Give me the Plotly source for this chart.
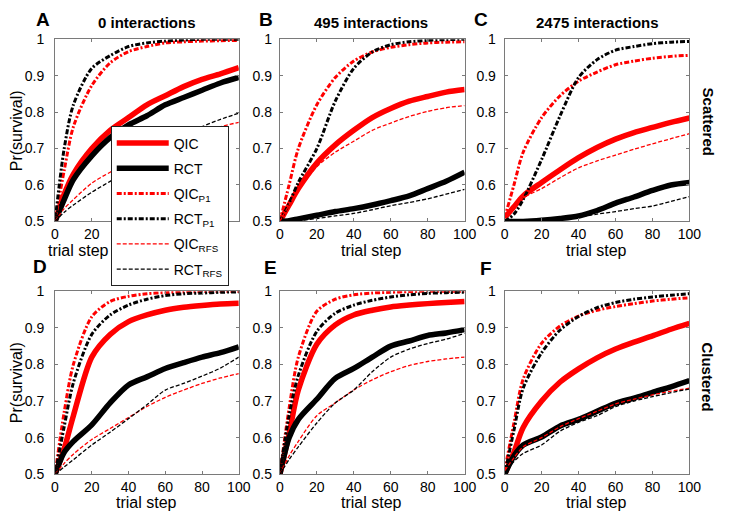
import plotly.graph_objects as go

# The page body has an 8px margin; the figure is sized so the page is 729x531.
OFF = 8
W, H = 729 - 2 * OFF, 531 - 2 * OFF


def px(x):
    return (x - OFF) / W


def py(y):
    return 1 - (y - OFF) / H


steps = [0, 5, 10, 20, 30, 40, 50, 60, 70, 80, 90, 100]

# Panel A: scattered, 0 interactions
A_QIC     = [0.5, 0.575, 0.63, 0.70, 0.75, 0.785, 0.82, 0.845, 0.87, 0.89, 0.905, 0.922]
A_RCT     = [0.5, 0.56, 0.615, 0.68, 0.73, 0.765, 0.79, 0.82, 0.84, 0.86, 0.88, 0.895]
A_QIC_P1  = [0.5, 0.64, 0.76, 0.873, 0.935, 0.966, 0.98, 0.99, 0.993, 0.995, 0.996, 0.997]
A_RCT_P1  = [0.5, 0.70, 0.82, 0.92, 0.955, 0.98, 0.99, 0.995, 0.998, 1.0, 1.0, 1.0]
A_QIC_RFS = [0.5, 0.535, 0.56, 0.605, 0.635, 0.66, 0.685, 0.71, 0.73, 0.745, 0.76, 0.772]
A_RCT_RFS = [0.5, 0.525, 0.545, 0.58, 0.61, 0.64, 0.67, 0.70, 0.735, 0.76, 0.78, 0.797]

# Panel B: scattered, 495 interactions
B_QIC     = [0.5, 0.545, 0.59, 0.66, 0.71, 0.75, 0.785, 0.81, 0.83, 0.843, 0.855, 0.862]
B_RCT     = [0.5, 0.502, 0.507, 0.517, 0.527, 0.535, 0.545, 0.557, 0.57, 0.59, 0.61, 0.635]
B_QIC_P1  = [0.5, 0.6, 0.7, 0.82, 0.895, 0.94, 0.965, 0.978, 0.985, 0.99, 0.992, 0.993]
B_RCT_P1  = [0.5, 0.55, 0.607, 0.70, 0.83, 0.92, 0.965, 0.985, 0.993, 0.997, 0.999, 1.0]
B_QIC_RFS = [0.5, 0.545, 0.585, 0.65, 0.69, 0.72, 0.75, 0.77, 0.788, 0.802, 0.812, 0.818]
B_RCT_RFS = [0.5, 0.5, 0.502, 0.508, 0.515, 0.522, 0.532, 0.543, 0.552, 0.562, 0.575, 0.588]

# Panel C: scattered, 2475 interactions
C_QIC     = [0.51, 0.54, 0.57, 0.607, 0.642, 0.675, 0.703, 0.726, 0.744, 0.758, 0.772, 0.784]
C_RCT     = [0.5, 0.5, 0.5, 0.503, 0.508, 0.515, 0.53, 0.55, 0.567, 0.585, 0.6, 0.607]
C_QIC_P1  = [0.51, 0.6, 0.69, 0.785, 0.845, 0.885, 0.91, 0.93, 0.94, 0.948, 0.953, 0.956]
C_RCT_P1  = [0.5, 0.52, 0.56, 0.67, 0.79, 0.895, 0.944, 0.97, 0.98, 0.988, 0.992, 0.994]
C_QIC_RFS = [0.51, 0.54, 0.565, 0.59, 0.62, 0.647, 0.666, 0.682, 0.698, 0.713, 0.727, 0.741]
C_RCT_RFS = [0.5, 0.5, 0.5, 0.502, 0.506, 0.512, 0.52, 0.527, 0.535, 0.542, 0.555, 0.568]

# Panel D: clustered, 0 interactions
D_QIC     = [0.5, 0.57, 0.66, 0.82, 0.882, 0.917, 0.935, 0.948, 0.956, 0.961, 0.965, 0.967]
D_RCT     = [0.5, 0.56, 0.59, 0.635, 0.695, 0.744, 0.766, 0.789, 0.805, 0.82, 0.832, 0.848]
D_QIC_P1  = [0.5, 0.67, 0.8, 0.93, 0.972, 0.986, 0.993, 0.996, 0.998, 0.999, 1.0, 1.0]
D_RCT_P1  = [0.5, 0.63, 0.75, 0.882, 0.935, 0.962, 0.978, 0.988, 0.993, 0.995, 0.997, 0.998]
D_QIC_RFS = [0.5, 0.53, 0.555, 0.595, 0.625, 0.655, 0.685, 0.71, 0.73, 0.748, 0.763, 0.775]
D_RCT_RFS = [0.5, 0.52, 0.54, 0.58, 0.615, 0.652, 0.69, 0.73, 0.748, 0.768, 0.79, 0.82]

# Panel E: clustered, 495 interactions
E_QIC     = [0.5, 0.61, 0.73, 0.855, 0.908, 0.935, 0.948, 0.957, 0.962, 0.966, 0.969, 0.972]
E_RCT     = [0.5, 0.6, 0.65, 0.705, 0.762, 0.789, 0.82, 0.85, 0.864, 0.879, 0.886, 0.895]
E_QIC_P1  = [0.5, 0.68, 0.82, 0.945, 0.978, 0.99, 0.995, 0.997, 0.999, 1.0, 1.0, 1.0]
E_RCT_P1  = [0.5, 0.66, 0.77, 0.89, 0.94, 0.962, 0.975, 0.984, 0.99, 0.994, 0.996, 0.997]
E_QIC_RFS = [0.5, 0.55, 0.59, 0.66, 0.695, 0.73, 0.758, 0.78, 0.797, 0.808, 0.815, 0.82]
E_RCT_RFS = [0.5, 0.54, 0.575, 0.64, 0.695, 0.73, 0.78, 0.82, 0.842, 0.857, 0.869, 0.885]

# Panel F: clustered, 2475 interactions
F_QIC     = [0.5, 0.56, 0.628, 0.7, 0.752, 0.788, 0.818, 0.842, 0.861, 0.878, 0.896, 0.912]
F_RCT     = [0.5, 0.55, 0.58, 0.602, 0.632, 0.65, 0.672, 0.694, 0.708, 0.724, 0.739, 0.756]
F_QIC_P1  = [0.51, 0.64, 0.76, 0.858, 0.905, 0.932, 0.948, 0.958, 0.966, 0.973, 0.978, 0.982]
F_RCT_P1  = [0.5, 0.62, 0.735, 0.832, 0.894, 0.931, 0.955, 0.969, 0.978, 0.984, 0.989, 0.993]
F_QIC_RFS = [0.51, 0.545, 0.575, 0.6, 0.63, 0.652, 0.672, 0.692, 0.705, 0.717, 0.727, 0.735]
F_RCT_RFS = [0.5, 0.535, 0.557, 0.58, 0.618, 0.642, 0.66, 0.685, 0.7, 0.712, 0.723, 0.733]

series_names = ["QIC", "RCT", "QIC<sub>P1</sub>", "RCT<sub>P1</sub>",
                "QIC<sub>RFS</sub>", "RCT<sub>RFS</sub>"]
panel_letters = ["A", "B", "C", "D", "E", "F"]
col_titles = ["0 interactions", "495 interactions", "2475 interactions"]
row_labels = ["Scattered", "Clustered"]
x_ticks = [0, 20, 40, 60, 80, 100]
x_ticks_A = [0, 20]          # the other ticks of panel A sit under the legend
y_ticks = [0.5, 0.6, 0.7, 0.8, 0.9, 1.0]
y_ticktext = ["0.5", "0.6", "0.7", "0.8", "0.9", "1"]

panels = [
    [A_QIC, A_RCT, A_QIC_P1, A_RCT_P1, A_QIC_RFS, A_RCT_RFS],
    [B_QIC, B_RCT, B_QIC_P1, B_RCT_P1, B_QIC_RFS, B_RCT_RFS],
    [C_QIC, C_RCT, C_QIC_P1, C_RCT_P1, C_QIC_RFS, C_RCT_RFS],
    [D_QIC, D_RCT, D_QIC_P1, D_RCT_P1, D_QIC_RFS, D_RCT_RFS],
    [E_QIC, E_RCT, E_QIC_P1, E_RCT_P1, E_QIC_RFS, E_RCT_RFS],
    [F_QIC, F_RCT, F_QIC_P1, F_RCT_P1, F_QIC_RFS, F_RCT_RFS],
]

styles = [
    dict(color="#ff0000", width=5.5, dash="solid"),
    dict(color="#000000", width=5.5, dash="solid"),
    dict(color="#ff0000", width=3, dash="5px,2px,2px,2px"),
    dict(color="#000000", width=3, dash="5px,2px,2px,2px"),
    dict(color="#ff0000", width=1.3, dash="4px,2px"),
    dict(color="#000000", width=1.3, dash="4px,2px"),
]

FONT = "Arial, Liberation Sans, sans-serif"
AXC = "#7a7a7a"

# pixel geometry of the axes boxes (in reference-image pixels)
col_px = [(52, 240), (282, 471), (512, 701)]
row_px = [(32, 220), (292, 481)]
y_standoff = [7, 4, 5]

fig = go.Figure()
layout = dict()
for i in range(6):
    r, c = divmod(i, 3)
    n = i + 1
    xa = "x" if n == 1 else f"x{n}"
    ya = "y" if n == 1 else f"y{n}"
    for k in range(6):
        fig.add_trace(go.Scatter(
            x=steps, y=panels[i][k], mode="lines", name=series_names[k],
            line=dict(color=styles[k]["color"], width=styles[k]["width"],
                      dash=styles[k]["dash"], shape="spline", smoothing=0.8),
            xaxis=xa, yaxis=ya, showlegend=(i == 0), legendgroup=f"g{k}",
        ))
    x0, x1 = col_px[c]
    y0, y1 = row_px[r]
    common = dict(showline=True, linecolor=AXC, linewidth=1, mirror="ticks",
                  ticks="inside", ticklen=3, tickcolor=AXC, showgrid=False,
                  zeroline=False, tickfont=dict(family=FONT, size=14, color="#000"))
    layout["xaxis" if n == 1 else f"xaxis{n}"] = dict(
        domain=[px(x0), px(x1)], range=[0, 100],
        tickvals=x_ticks_A if i == 0 else x_ticks,
        anchor=ya, ticklabelstandoff=0, **common)
    layout["yaxis" if n == 1 else f"yaxis{n}"] = dict(
        domain=[py(y1), py(y0)], range=[0.5, 1.0], tickvals=y_ticks,
        ticktext=y_ticktext, anchor=xa, ticklabelstandoff=y_standoff[c], **common)

annotations = []
letter_pos = [(40, 12), (268, 12), (488, 12), (37, 267), (272, 268), (493, 269)]
for (lx, ly), t in zip(letter_pos, panel_letters):
    annotations.append(dict(x=px(lx), y=py(ly), xref="paper", yref="paper",
                            text=f"<b>{t}</b>", showarrow=False,
                            font=dict(family=FONT, size=19, color="#000"),
                            xanchor="center", yanchor="middle"))
title_x = [146, 375, 607]
for tx, t in zip(title_x, col_titles):
    annotations.append(dict(x=px(tx), y=py(15), xref="paper", yref="paper",
                            text=f"<b>{t}</b>", showarrow=False,
                            font=dict(family=FONT, size=15, color="#000"),
                            xanchor="center", yanchor="middle"))
for (rx, ry), t in zip([(720, 117), (720, 380)], row_labels):
    annotations.append(dict(x=px(rx), y=py(ry), xref="paper", yref="paper",
                            text=f"<b>{t}</b>", showarrow=False, textangle=90,
                            font=dict(family=FONT, size=15, color="#000"),
                            xanchor="center", yanchor="middle"))
# x-axis titles
for (xx, xy) in [(76, 239), (376, 239), (606, 239), (146, 499), (376, 499), (606, 499)]:
    annotations.append(dict(x=px(xx), y=py(xy), xref="paper", yref="paper",
                            text="trial step", showarrow=False,
                            font=dict(family=FONT, size=16, color="#000"),
                            xanchor="center", yanchor="top"))
# y-axis titles
for yy in [126, 386]:
    annotations.append(dict(x=px(12), y=py(yy), xref="paper", yref="paper",
                            text="Pr(survival)", showarrow=False, textangle=-90,
                            font=dict(family=FONT, size=16, color="#000"),
                            xanchor="center", yanchor="middle"))

fig.update_layout(
    width=W, height=H, margin=dict(l=0, r=0, t=0, b=0),
    paper_bgcolor="white", plot_bgcolor="white",
    font=dict(family=FONT, color="#000"),
    annotations=annotations,
    legend=dict(x=px(109), y=py(122), xanchor="left", yanchor="top",
                bgcolor="white", bordercolor="#222", borderwidth=1,
                font=dict(family=FONT, size=14, color="#000"),
                tracegroupgap=4, itemwidth=52),
    **layout,
)

fig.write_html("out.html")
